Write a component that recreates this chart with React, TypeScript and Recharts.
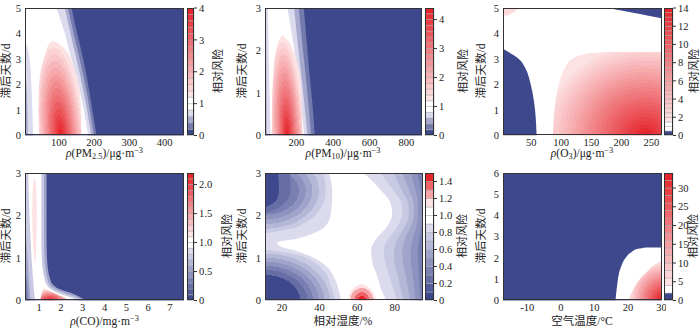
import React from 'react';
import { ComposedChart, Area, XAxis, YAxis, CartesianGrid, BarChart, Bar } from 'recharts';

const FONT = "'Liberation Serif','Times New Roman','Noto Sans CJK SC',serif";

// ---------- PM2.5 ----------
const pm25Levels = [0, 0.2, 0.4, 0.6, 0.8, 1.0, 1.2, 1.4, 1.6, 1.8, 2.0, 2.2, 2.4, 2.6, 2.8, 3.0, 3.2, 3.4, 3.6, 3.8, 4.0];
const pm25BandY = [0, 1, 2, 3, 4, 5];
const pm25Edge02 = [207, 195, 183, 169, 152, 136];
const pm25Edge04 = [200, 188, 175, 159, 142, 126];
const pm25Edge06 = [192, 180, 166, 150, 133, 117];
const pm25StripY = [0, 1, 2, 2.5];
const pm25StripR = [12, 11, 8, 4];
const pm25WhiteY = [0, 1, 2, 3, 3.5, 3.75, 4, 5];
const pm25WhiteL = [27, 25, 22, 17, 10, 4, 4, 4];
const pm25WhiteR = [183, 171, 155, 136, 126, 122, 117, 93];
const pm25BlobY = [0, 1, 2, 2.7, 3.3, 3.6, 3.72];
const pm25BlobL = [44, 42, 44, 51, 64, 72, 82];
const pm25BlobR = [164, 163, 157, 142, 122, 100, 84];

// ---------- PM10 ----------
const pm10Levels = [0, 0.2, 0.4, 0.6, 0.8, 1.0, 1.2, 1.4, 1.6, 1.8, 2.0, 2.2, 2.4, 2.6, 2.8, 3.0, 3.2, 3.4, 3.6, 3.8, 4.0, 4.2, 4.4];
const pm10BandY = [0, 0.75, 1.5, 2.25, 3];
const pm10Edge02 = [300, 287, 270, 255, 240];
const pm10Edge04 = [279, 265, 248, 230, 212];
const pm10Edge06 = [260, 243, 224, 205, 187];
const pm10WhiteL = [58, 54, 50, 47, 44];
const pm10WhiteR = [242, 225, 205, 180, 151];
const pm10StripY = [0, 1.5, 3];
const pm10StripR = [38, 36, 33];
const pm10BlobY = [0, 1, 1.5, 2, 2.2, 2.35];
const pm10BlobL = [65, 68, 74, 87, 101, 120];
const pm10BlobR = [233, 227, 215, 182, 160, 125];

// ---------- O3 ----------
const o3Levels = [0, 0.5, 1, 1.5, 2, 2.5, 3, 3.5, 4, 4.5, 5, 5.5, 6, 6.5, 7, 7.5, 8, 8.5, 9, 9.5, 10, 10.5, 11, 11.5, 12, 12.5, 13, 13.5, 14];
const o3LowY = [0, 1.37, 2.02, 2.68, 3.0, 3.26, 3.4];
const o3LowR = [59, 54.4, 49, 39.4, 29.4, 12.8, 3];
const o3CapY = [4.6, 4.7, 4.8, 4.9, 5];
const o3CapL = [267, 245, 222, 200, 177];
const o3TopY = [4.7, 4.85, 5];
const o3TopR = [10, 22, 29];
const o3BlobY = [0, 1.37, 2.02, 2.68, 3.0, 3.2, 3.27];
const o3BlobL = [86, 90.5, 96, 107, 118, 140, 170];

// ---------- CO ----------
const coLevels = [0, 0.1, 0.2, 0.3, 0.4, 0.5, 0.6, 0.7, 0.8, 0.9, 1.0, 1.1, 1.2, 1.3, 1.4, 1.5, 1.6, 1.7, 1.8, 1.9, 2.0, 2.1, 2.2];
const coY = [0, 0.05, 0.15, 0.3, 0.5, 1, 1.5, 2, 3];
const coMidR = [3.2, 3.0, 2.6, 1.8, 1.5, 1.36, 1.34, 1.34, 1.34];
const coLightL = [0.6, 0.6, 0.58, 0.56, 0.53, 0.47, 0.4, 0.35, 0.35];
const coLightR = [3.0, 2.85, 2.3, 1.6, 1.38, 1.24, 1.22, 1.22, 1.22];
const coWhiteL = [0.8, 0.8, 0.78, 0.75, 0.72, 0.65, 0.6, 0.55, 0.5];
const coWhiteR = [2.8, 2.6, 2.0, 1.45, 1.25, 1.12, 1.1, 1.1, 1.1];
const coCornerY = [0, 0.2, 0.4, 0.6, 0.8];
const coCornerR = [0.5, 0.48, 0.45, 0.4, 0.35];
const coSpindleY = [0.85, 1.2, 1.6, 2.0, 2.4, 2.7, 2.9];
const coSpindleL = [0.8, 0.74, 0.7, 0.68, 0.69, 0.72, 0.78];
const coSpindleR = [0.82, 0.86, 0.88, 0.89, 0.88, 0.86, 0.8];
const coBlobY = [0, 0.08, 0.16, 0.23, 0.28];
const coBlobL = [1.05, 1.08, 1.12, 1.16, 1.22];
const coBlobR = [2.45, 2.1, 1.75, 1.45, 1.25];

// ---------- relative humidity ----------
const rhLevels = [0, 0.1, 0.2, 0.3, 0.4, 0.5, 0.6, 0.7, 0.8, 0.9, 1.0, 1.1, 1.2, 1.3, 1.4, 1.5];
const rhEdgeY = [0, 0.2, 0.55, 0.82, 1.02, 1.17, 1.29, 1.37, 1.45, 1.57, 1.76, 2.04, 2.58, 3];
const rhEdgeR = [51.6, 50.5, 47.7, 43.3, 36.2, 27.3, 18.4, 17.5, 27.3, 36.2, 43.3, 46, 46.8, 45];
const rhUpperY = [1.58, 1.68, 1.85, 2.1, 2.35, 2.58, 2.8, 3];
const rhUpperR = [11, 24, 33, 39.5, 42.5, 43.3, 43, 41.5];
const rhRingY = [2.05, 2.15, 2.3, 2.55, 2.8, 3];
const rhRingR = [11, 17, 21.5, 24.6, 24.5, 24];
const rhCoreY = [2.19, 2.28, 2.4, 2.6, 2.8, 3];
const rhCoreR = [11, 15, 17.5, 18.4, 18.3, 18];
const rhLowerY = [0, 0.35, 0.66, 0.92, 1.08, 1.2];
const rhLowerR = [48.5, 46, 43, 36.2, 27.3, 11];
const rhSideY = [0, 0.3, 0.6, 0.9, 1.2, 1.45, 1.75, 2.05, 2.3, 2.6, 3];
const rhSide09 = [75.5, 72.5, 70.5, 68, 67.4, 70, 76, 78.6, 77.7, 72.5, 63.5];
const rhSide08 = [81.3, 79, 77, 74.8, 74.2, 76.5, 81.5, 84, 83.5, 79, 72.5];
const rhSide07 = [84.8, 83, 81.5, 79.8, 79.6, 81.5, 85.5, 87.5, 87, 83.5, 79.6];
const rhSide06 = [88.5, 87, 85.8, 84.3, 84, 85.5, 88.5, 90.2, 90, 87.5, 84];
const rhSide05 = [91, 90.3, 89.5, 88.6, 88.5, 89.5, 91.5, 92.3, 92.3, 91, 88.5];
const rhSide04 = [93.7, 93.2, 92.8, 92.4, 92.3, 93, 94.2, 94.6, 94.6, 93.8, 92];
const rhBlobY = [0, 0.1, 0.2, 0.3, 0.36, 0.39];
const rhBlobL = [55.5, 55.5, 56.5, 58.3, 60.3, 62.3];
const rhBlobR = [70, 69.5, 68.3, 66.5, 64.5, 62.8];

// ---------- temperature ----------
const tLevels = [0, 2, 4, 6, 8, 10, 12, 14, 16, 18, 20, 22, 24, 26, 28, 30, 32, 34];
const tWhiteY = [0, 0.86, 1.33, 1.65, 1.96, 2.27, 2.43, 2.5];
const tWhiteL = [16.3, 16.9, 17.4, 18.1, 19.1, 21, 23, 25.5];
const tBlobY = [0, 0.5, 1, 1.4, 1.7, 1.88];
const tBlobL = [20, 21.5, 23.5, 26, 28, 30];

// ---------- colours ----------
const DARK = [62, 73, 141];
const LAV = [220, 219, 238];
const PINK = [253, 226, 227];
const RED = [229, 36, 43];

const mix = (a: number[], b: number[], t: number) =>
  `rgb(${a.map((v, i) => Math.round(v + (b[i] - v) * t)).join(',')})`;

function segColors(levels: number[], nLow: number, nWhite: number) {
  const n = levels.length - 1;
  const nHigh = n - nLow - nWhite;
  return levels.slice(1).map((_, i) => {
    if (i < nLow) return nLow === 1 ? mix(DARK, DARK, 0) : mix(LAV, DARK, (nLow - 1 - i) / (nLow - 1));
    if (i < nLow + nWhite) return '#ffffff';
    const j = i - nLow - nWhite;
    return mix(PINK, RED, nHigh === 1 ? 1 : j / (nHigh - 1));
  });
}

const c1 = segColors(pm25Levels, 4, 2);
const c2 = segColors(pm10Levels, 4, 2);
const c3 = segColors(o3Levels, 1, 2);
const c4 = segColors(coLevels, 9, 2);
const c5 = segColors(rhLevels, 9, 2);
const c6 = segColors(tLevels, 1, 1);

type Grad = { id: string; cx: number; cy: number; rx: number; ry: number; skew?: number; colors: string[]; radii?: number[] };

function RadialBands({ id, cx, cy, rx, ry, skew = 0, colors, radii }: Grad) {
  // colours run from the outer band to the inner one
  const n = colors.length;
  const edges = radii ?? colors.map((_, j) => 1 - j / n);
  const stops: React.ReactElement[] = [];
  for (let j = n - 1; j >= 0; j--) {
    const lo = j + 1 < n ? edges[j + 1] : 0;
    stops.push(<stop key={`${j}a`} offset={lo} stopColor={colors[j]} />);
    stops.push(<stop key={`${j}b`} offset={edges[j]} stopColor={colors[j]} />);
  }
  return (
    <radialGradient id={id} cx={0} cy={0} r={1}
      gradientTransform={`translate(${cx} ${cy}) skewX(${skew}) scale(${rx} ${ry})`}>
      {stops}
    </radialGradient>
  );
}

type Region = { ys: number[]; lo: number | number[]; hi: number | number[]; fill: string };

const rowsOf = (r: Region) =>
  r.ys.map((y, i) => ({
    y,
    r: [typeof r.lo === 'number' ? r.lo : r.lo[i], typeof r.hi === 'number' ? r.hi : r.hi[i]],
  }));

const tickStyle = { fontSize: 10.5, fill: '#222', fontFamily: FONT };

function Panel({ left, top, width, height, xDomain, xTicks, yDomain, yTicks, bg, regions, gradients }: any) {
  const AX = 22;
  const XH = 18;
  const MT = 8;
  return (
    <>
      <div style={{ position: 'absolute', left: left - AX, top: top - MT }}>
        <ComposedChart layout="vertical" width={AX + width + 4} height={MT + height + XH}
          margin={{ top: MT, right: 4, bottom: 0, left: 0 }}>
          <defs>{gradients.map((g: Grad) => <RadialBands key={g.id} {...g} />)}</defs>
          <CartesianGrid fill={bg} horizontal={false} vertical={false} />
          <XAxis type="number" domain={xDomain} ticks={xTicks} allowDataOverflow interval={0}
            height={XH} axisLine={false} tickLine={false} tickSize={0} tickMargin={3} tick={tickStyle} />
          <YAxis type="number" dataKey="y" domain={yDomain} ticks={yTicks} allowDataOverflow interval={0} reversed
            width={AX} axisLine={false} tickLine={false} tickSize={0} tickMargin={4} tick={tickStyle} />
          {regions.map((r: Region, i: number) => (
            <Area key={i} data={rowsOf(r)} dataKey="r" type="monotone" stroke="none"
              fill={r.fill} fillOpacity={1} dot={false} activeDot={false} isAnimationActive={false} />
          ))}
        </ComposedChart>
      </div>
      <div style={{ position: 'absolute', left, top, width, height, border: '1px solid #333',
        boxSizing: 'border-box', pointerEvents: 'none' }} />
    </>
  );
}

function ColorBar({ left, top, width, height, levels, colors, ticks, fmt }: any) {
  const row: Record<string, any> = { k: 'cb' };
  levels.slice(1).forEach((v: number, i: number) => { row['s' + i] = v - levels[i]; });
  const max = levels[levels.length - 1];
  const M = 8;
  return (
    <>
      <div style={{ position: 'absolute', left, top: top - M }}>
        <BarChart width={width + 30} height={height + 2 * M} data={[row]} barCategoryGap={0}
          margin={{ top: M, right: 0, bottom: M, left: 0 }}>
          <XAxis dataKey="k" hide />
          <YAxis type="number" orientation="right" domain={[0, max]} ticks={ticks} allowDataOverflow interval={0}
            width={30} axisLine={false} tickLine={{ stroke: '#333' }} tickSize={3} tickMargin={2}
            tick={{ ...tickStyle, textAnchor: 'start' }} tickFormatter={fmt} />
          {colors.map((c: string, i: number) => (
            <Bar key={i} dataKey={'s' + i} stackId="a" fill={c} stroke="#a8a8a8" strokeWidth={0.5}
              isAnimationActive={false} />
          ))}
        </BarChart>
      </div>
      <div style={{ position: 'absolute', left, top, width, height, border: '1px solid #333',
        boxSizing: 'border-box', pointerEvents: 'none' }} />
    </>
  );
}

const subS = { fontSize: '0.72em', verticalAlign: 'baseline', position: 'relative', top: '0.25em', lineHeight: 0 } as const;
const supS = { fontSize: '0.72em', verticalAlign: 'baseline', position: 'relative', top: '-0.45em', lineHeight: 0 } as const;

function XTitle({ cx, cy, children }: any) {
  return (
    <div style={{ position: 'absolute', left: cx - 100, top: cy - 8, width: 200, lineHeight: '16px',
      textAlign: 'center', fontSize: 11.5, whiteSpace: 'nowrap', color: '#222' }}>{children}</div>
  );
}

function VTitle({ cx, cy, text, size = 11.5 }: any) {
  return (
    <div style={{ position: 'absolute', left: cx, top: cy, transform: 'translate(-50%,-50%) rotate(-90deg)',
      fontSize: size, whiteSpace: 'nowrap', lineHeight: '12px', color: '#222' }}>{text}</div>
  );
}

const one = (v: number) => (v === 0 ? '0' : v.toFixed(1));

export default function App() {
  const R1 = 7.5, R2 = 172.5, H = 127.5;
  const upperBands = [c5[7], c5[6], c5[5], c5[4], c5[3]];
  const lowerBands = [c5[7], c5[6], c5[5], c5[4], c5[3], c5[2], c5[0]];
  return (
    <div style={{ position: 'absolute', left: 0, top: 0, width: 700, height: 333, background: '#fff', fontFamily: FONT, overflow: 'hidden' }}>
      {/* PM2.5 */}
      <Panel left={25} top={R1} width={159} height={H} xDomain={[4, 455]} xTicks={[100, 200, 300, 400]}
        yDomain={[0, 5]} yTicks={[0, 1, 2, 3, 4, 5]} bg={c1[0]}
        gradients={[{ id: 'g1', cx: 0.52, cy: 1, rx: 0.55, ry: 1, skew: 10, colors: c1.slice(6) }]}
        regions={[
          { ys: pm25BandY, lo: 4, hi: pm25Edge02, fill: c1[1] },
          { ys: pm25BandY, lo: 4, hi: pm25Edge04, fill: c1[2] },
          { ys: pm25BandY, lo: 4, hi: pm25Edge06, fill: c1[3] },
          { ys: pm25StripY, lo: 4, hi: pm25StripR, fill: c1[2] },
          { ys: pm25WhiteY, lo: pm25WhiteL, hi: pm25WhiteR, fill: '#ffffff' },
          { ys: pm25BlobY, lo: pm25BlobL, hi: pm25BlobR, fill: 'url(#g1)' },
        ]} />
      <ColorBar left={186.5} top={R1} width={7} height={H} levels={pm25Levels} colors={c1} ticks={[0, 1, 2, 3, 4]} />

      {/* PM10 */}
      <Panel left={264.5} top={R1} width={157} height={H} xDomain={[28, 886]} xTicks={[200, 400, 600, 800]}
        yDomain={[0, 3]} yTicks={[0, 1, 2, 3]} bg={c2[0]}
        gradients={[{ id: 'g2', cx: 0.51, cy: 1, rx: 0.55, ry: 1, skew: 9.5, colors: c2.slice(6) }]}
        regions={[
          { ys: pm10BandY, lo: 28, hi: pm10Edge02, fill: c2[1] },
          { ys: pm10BandY, lo: 28, hi: pm10Edge04, fill: c2[2] },
          { ys: pm10BandY, lo: 28, hi: pm10Edge06, fill: c2[3] },
          { ys: pm10StripY, lo: 28, hi: pm10StripR, fill: c2[2] },
          { ys: pm10BandY, lo: pm10WhiteL, hi: pm10WhiteR, fill: '#ffffff' },
          { ys: pm10BlobY, lo: pm10BlobL, hi: pm10BlobR, fill: 'url(#g2)' },
        ]} />
      <ColorBar left={425} top={R1} width={9} height={H} levels={pm10Levels} colors={c2} ticks={[0, 1, 2, 3, 4]} />

      {/* O3 */}
      <Panel left={503} top={R1} width={158.5} height={H} xDomain={[3, 267]} xTicks={[50, 100, 150, 200, 250]}
        yDomain={[0, 5]} yTicks={[0, 1, 2, 3, 4, 5]} bg="#ffffff"
        gradients={[{ id: 'g3', cx: 0.85, cy: 1, rx: 0.95, ry: 1.12, colors: c3.slice(3) }]}
        regions={[
          { ys: o3LowY, lo: 3, hi: o3LowR, fill: c3[0] },
          { ys: o3CapY, lo: o3CapL, hi: 267, fill: c3[0] },
          { ys: o3TopY, lo: 3, hi: o3TopR, fill: c3[4] },
          { ys: o3BlobY, lo: o3BlobL, hi: 267, fill: 'url(#g3)' },
        ]} />
      <ColorBar left={664} top={R1} width={9} height={H} levels={o3Levels} colors={c3} ticks={[0, 2, 4, 6, 8, 10, 12, 14]} />

      {/* CO */}
      <Panel left={25} top={R2} width={159} height={H} xDomain={[0.35, 7.65]} xTicks={[1, 2, 3, 4, 5, 6, 7]}
        yDomain={[0, 3]} yTicks={[0, 1, 2, 3]} bg={c4[0]}
        gradients={[{ id: 'g4', cx: 0.32, cy: 1, rx: 0.7, ry: 1, colors: c4.slice(11) }]}
        regions={[
          { ys: coY, lo: 0.35, hi: coMidR, fill: c4[5] },
          { ys: coY, lo: coLightL, hi: coLightR, fill: c4[7] },
          { ys: coCornerY, lo: 0.35, hi: coCornerR, fill: c4[3] },
          { ys: coY, lo: coWhiteL, hi: coWhiteR, fill: '#ffffff' },
          { ys: coSpindleY, lo: coSpindleL, hi: coSpindleR, fill: c4[11] },
          { ys: coBlobY, lo: coBlobL, hi: coBlobR, fill: 'url(#g4)' },
        ]} />
      <ColorBar left={186.5} top={R2} width={7} height={H} levels={coLevels} colors={c4} ticks={[0, 0.5, 1, 1.5, 2]} fmt={one} />

      {/* relative humidity */}
      <Panel left={264.5} top={R2} width={158} height={H} xDomain={[11, 95]} xTicks={[20, 40, 60, 80]}
        yDomain={[0, 3]} yTicks={[0, 1, 2, 3]} bg="#ffffff"
        gradients={[
          { id: 'g5u', cx: 0, cy: 0.296, rx: 1, ry: 0.704, colors: upperBands, radii: [1, 0.889, 0.78, 0.669, 0.557] },
          { id: 'g5l', cx: 0, cy: 1, rx: 1, ry: 1, colors: lowerBands, radii: [1, 0.92, 0.84, 0.76, 0.68, 0.6, 0.5] },
          { id: 'g5r', cx: 0.48, cy: 1, rx: 0.55, ry: 1, colors: c5.slice(11), radii: [1, 0.75, 0.5, 0.28] },
        ]}
        regions={[
          { ys: rhEdgeY, lo: 11, hi: rhEdgeR, fill: c5[8] },
          { ys: rhUpperY, lo: 11, hi: rhUpperR, fill: 'url(#g5u)' },
          { ys: rhRingY, lo: 11, hi: rhRingR, fill: c5[2] },
          { ys: rhCoreY, lo: 11, hi: rhCoreR, fill: c5[0] },
          { ys: rhLowerY, lo: 11, hi: rhLowerR, fill: 'url(#g5l)' },
          { ys: rhSideY, lo: rhSide09, hi: 95, fill: c5[8] },
          { ys: rhSideY, lo: rhSide08, hi: 95, fill: c5[7] },
          { ys: rhSideY, lo: rhSide07, hi: 95, fill: c5[6] },
          { ys: rhSideY, lo: rhSide06, hi: 95, fill: c5[5] },
          { ys: rhSideY, lo: rhSide05, hi: 95, fill: c5[4] },
          { ys: rhSideY, lo: rhSide04, hi: 95, fill: c5[3] },
          { ys: rhBlobY, lo: rhBlobL, hi: rhBlobR, fill: 'url(#g5r)' },
        ]} />
      <ColorBar left={425} top={R2} width={9} height={H} levels={rhLevels} colors={c5} ticks={[0, 0.2, 0.4, 0.6, 0.8, 1.0, 1.2, 1.4]} fmt={one} />

      {/* temperature */}
      <Panel left={503} top={R2} width={158.5} height={H} xDomain={[-17.2, 30]} xTicks={[-10, 0, 10, 20, 30]}
        yDomain={[0, 6]} yTicks={[0, 1, 2, 3, 4, 5, 6]} bg={c6[0]}
        gradients={[{ id: 'g6', cx: 1, cy: 1, rx: 1, ry: 1, colors: c6.slice(2) }]}
        regions={[
          { ys: tWhiteY, lo: tWhiteL, hi: 30, fill: '#ffffff' },
          { ys: tBlobY, lo: tBlobL, hi: 30, fill: 'url(#g6)' },
        ]} />
      <ColorBar left={664} top={R2} width={9} height={H} levels={tLevels} colors={c6} ticks={[0, 5, 10, 15, 20, 25, 30]} />

      {/* axis titles */}
      <XTitle cx={104.5} cy={153}><i>ρ</i>(PM<span style={subS}>2.5</span>)/μg·m<span style={supS}>−3</span></XTitle>
      <XTitle cx={343} cy={153}><i>ρ</i>(PM<span style={subS}>10</span>)/μg·m<span style={supS}>−3</span></XTitle>
      <XTitle cx={582} cy={153}><i>ρ</i>(O<span style={subS}>3</span>)/μg·m<span style={supS}>−3</span></XTitle>
      <XTitle cx={104.5} cy={321}><i>ρ</i>(CO)/mg·m<span style={supS}>−3</span></XTitle>
      <XTitle cx={343} cy={321}>相对湿度/%</XTitle>
      <XTitle cx={582} cy={321}>空气温度/°C</XTitle>

      <VTitle cx={6} cy={71} text="滞后天数/d" />
      <VTitle cx={242} cy={71} text="滞后天数/d" />
      <VTitle cx={481} cy={71} text="滞后天数/d" />
      <VTitle cx={6} cy={236} text="滞后天数/d" />
      <VTitle cx={242} cy={236} text="滞后天数/d" />
      <VTitle cx={481} cy={236} text="滞后天数/d" />

      <VTitle cx={218} cy={71} text="相对风险" size={11} />
      <VTitle cx={463} cy={71} text="相对风险" size={11} />
      <VTitle cx={693.5} cy={71} text="相对风险" size={11} />
      <VTitle cx={227} cy={236} text="相对风险" size={11} />
      <VTitle cx={462} cy={236} text="相对风险" size={11} />
      <VTitle cx={693} cy={236} text="相对风险" size={11} />
    </div>
  );
}
